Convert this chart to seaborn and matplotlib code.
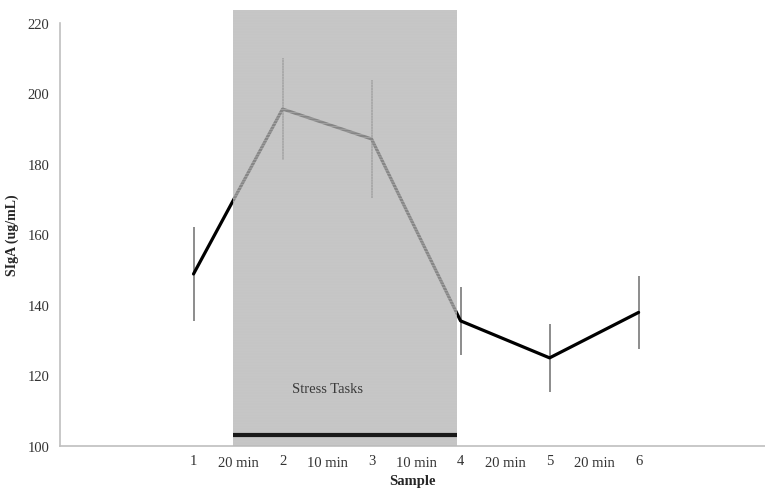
import matplotlib
matplotlib.use("Agg")
import matplotlib.pyplot as plt
import seaborn as sns
import pandas as pd

# data
samples = [1, 2, 3, 4, 5, 6]
sigA = [148.8, 195.6, 187.1, 135.5, 125.0, 137.9]
sigA_err = [13.3, 14.5, 16.8, 9.7, 9.7, 10.4]

interval_pos = [-0.5, 0.5, 1.5, 2.5, 3.5, 4.5, 5.5, 6.5]
interval_labels = ["", "", "20 min", "10 min", "10 min", "20 min", "20 min", ""]
stress_start, stress_end = 1.44, 3.96
yticks = [100, 120, 140, 160, 180, 200, 220]

df = pd.DataFrame({"Sample": samples, "SIgA": sigA, "err": sigA_err})

sns.set_style("white")
plt.rcParams["font.family"] = ["Liberation Serif", "DejaVu Serif"]
plt.rcParams["hatch.linewidth"] = 0.4

fig = plt.figure(figsize=(7.65, 4.89), dpi=100)
ax = fig.add_axes([60 / 765, 1 - 447 / 489, 1 - 60 / 765, (447 - 24) / 489])

# error bars (no caps)
ax.errorbar(df["Sample"], df["SIgA"], yerr=df["err"], fmt="none",
            ecolor="#8c8c8c", elinewidth=1.4, capsize=0, zorder=1.5)
# mean line
sns.lineplot(data=df, x="Sample", y="SIgA", color="black", linewidth=2.3,
             ax=ax, zorder=2)

# shaded stress period drawn over the line
shade = ax.fill_between([stress_start, stress_end], 100, 223.7,
                        facecolor="#b4b4b4", alpha=0.75, edgecolor="#c4c4c4",
                        hatch="------", linewidth=0, zorder=3)
shade.set_clip_on(False)
ax.plot([stress_start, stress_end], [103, 103], color="#1a1a1a",
        linewidth=3, solid_capstyle="butt", zorder=4)
ax.text((stress_start + stress_end) / 2 - 0.2, 116.2, "Stress Tasks",
        ha="center", va="center", fontsize=10.5, color="#3a3a3a", zorder=5)

ax.set_xlim(-0.5, 7.42)
ax.set_ylim(100, 220)
ax.set_yticks(yticks)
ax.set_xticks(interval_pos)
ax.set_xticklabels(interval_labels)
ax.set_xticks(samples, minor=True)
ax.set_xticklabels([str(s) for s in samples], minor=True)

ax.tick_params(axis="both", which="major", direction="out", length=4,
               width=0.8, color="#bfbfbf", labelsize=10.5, labelcolor="#333333")
ax.tick_params(axis="x", which="major", pad=3)
ax.tick_params(axis="x", which="minor", length=0, pad=6, labelsize=10.5,
               labelcolor="#333333")

for side in ["top", "right"]:
    ax.spines[side].set_visible(False)
for side in ["left", "bottom"]:
    ax.spines[side].set_color("#bfbfbf")
    ax.spines[side].set_linewidth(1.2)

ax.set_xlabel("Sample", fontsize=10.5, fontweight="bold", color="#262626",
              labelpad=4)
ax.set_ylabel("SIgA (ug/mL)", fontsize=10, fontweight="bold", color="#262626",
              labelpad=6)

fig.savefig("out.png", dpi=100)
